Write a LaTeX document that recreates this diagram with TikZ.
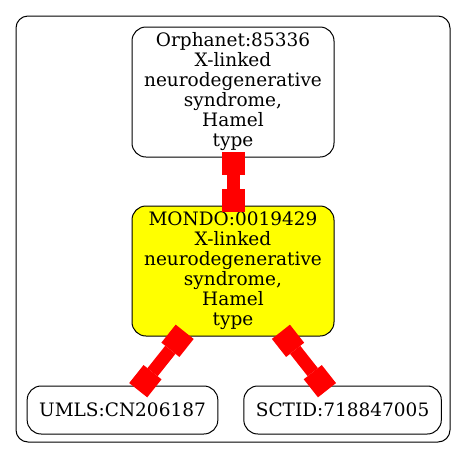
\documentclass[tikz,border=0pt]{standalone}
\usepackage{fontspec}
\setmainfont{DejaVu Serif}
\usetikzlibrary{positioning,arrows.meta}
\definecolor{LinkRed}{HTML}{FF0000}
\definecolor{TermYellow}{HTML}{FFFF00}

\begin{document}
\begin{tikzpicture}[
  x=1pt, y=-1pt,
  node distance=48pt,
  term/.style={draw, line width=1pt, fill=white, rounded corners=14pt, align=center, minimum width=202pt, minimum height=130pt, inner sep=0pt, font=\fontsize{18.5}{20}\selectfont},
  xref/.style={draw, line width=1pt, fill=white, rounded corners=14pt, minimum height=48pt, inner xsep=12pt, font=\fontsize{18.5}{20}\selectfont},
  link/.style={line width=13pt, draw=LinkRed, shorten <=-6pt, shorten >=-6pt, {Square[length=23pt,width=23pt,line width=0pt]}-{Square[length=23pt,width=23pt,line width=0pt]}}
]
\useasboundingbox (0,0) rectangle (467,459);
\draw[rounded corners=12pt, line width=1pt] (16,16) rectangle (450,442);

\node[term] (orpha) at (233,92) {Orphanet:85336\\X-linked\\neurodegenerative\\syndrome,\\Hamel\\type};
\node[term, fill=TermYellow, below=of orpha] (mondo) {MONDO:0019429\\X-linked\\neurodegenerative\\syndrome,\\Hamel\\type};
\node[xref, below=49pt of mondo.south, xshift=-110.5pt] (umls) {UMLS:CN206187};
\node[xref, right=25pt of umls] (sctid) {SCTID:718847005};

\draw[link] (orpha) -- (mondo);
\draw[link] (mondo) -- (umls);
\draw[link] (mondo) -- (sctid);
\end{tikzpicture}
\end{document}
